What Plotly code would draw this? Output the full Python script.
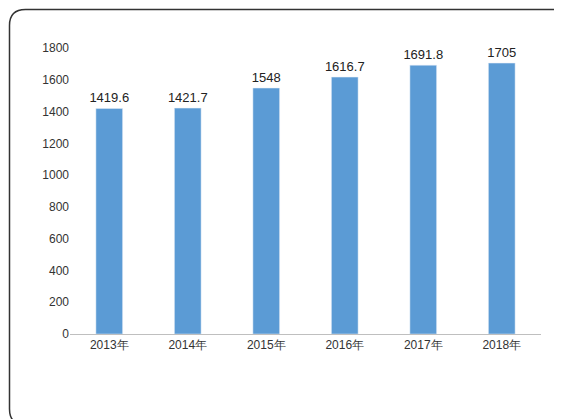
import plotly.graph_objects as go

years = ["2013年", "2014年", "2015年", "2016年", "2017年", "2018年"]
values = [1419.6, 1421.7, 1548, 1616.7, 1691.8, 1705]
labels = ["1419.6", "1421.7", "1548", "1616.7", "1691.8", "1705"]

W, H = 562, 419
L, R, T, B = 62, 29, 40, 93
pw, ph = W - L - R, H - T - B

def px(x):
    return (x - L) / pw

def py(y):
    return (H - B - y) / ph

# rounded border in pixel coords -> paper coords
x0, y0, x1, y1, r = 1.5, 1.5, 560, 417, 16
path = (f"M {px(x0 + r)} {py(y0)} L {px(x1 - r)} {py(y0)} "
        f"Q {px(x1)} {py(y0)} {px(x1)} {py(y0 + r)} "
        f"L {px(x1)} {py(y1 - r)} Q {px(x1)} {py(y1)} {px(x1 - r)} {py(y1)} "
        f"L {px(x0 + r)} {py(y1)} Q {px(x0)} {py(y1)} {px(x0)} {py(y1 - r)} "
        f"L {px(x0)} {py(y0 + r)} Q {px(x0)} {py(y0)} {px(x0 + r)} {py(y0)} Z")

fig = go.Figure(go.Bar(
    x=years, y=values, text=labels, textposition="outside",
    marker_color="#5b9bd5", width=0.34, constraintext="none",
    textfont=dict(size=13, color="#222222"), cliponaxis=False,
))
fig.update_layout(
    width=W, height=H, margin=dict(l=L, r=R, t=T, b=B, autoexpand=False),
    plot_bgcolor="white", paper_bgcolor="white",
    font=dict(family="Liberation Sans, Arial", size=12, color="#333333"),
    showlegend=False,
    shapes=[dict(type="path", path=path, xref="paper", yref="paper",
                 line=dict(color="#333333", width=1.5))],
)
fig.update_yaxes(range=[0, 1800], dtick=200, showgrid=False, zeroline=False,
                 ticks="", ticklen=0, automargin=False)
fig.update_xaxes(showline=True, linecolor="#bfbfbf", linewidth=1, ticks="",
                 automargin=False)
fig.write_html("out.html")
